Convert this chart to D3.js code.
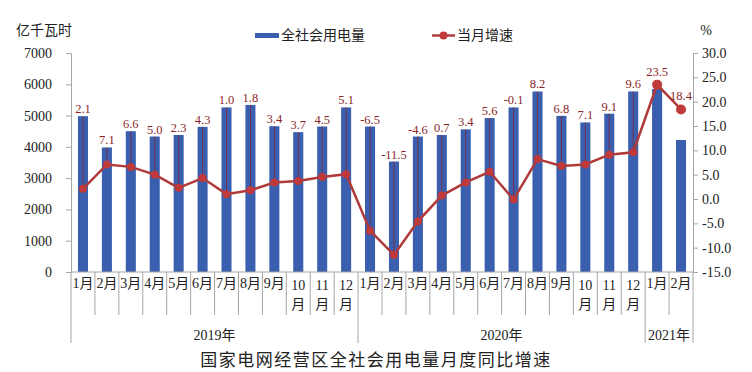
<!DOCTYPE html>
<html>
<head>
<meta charset="utf-8">
<script src="https://cdn.jsdelivr.net/npm/d3@7"></script>
<style>
  body { margin: 0; background: #fff; }
  svg { display: block; }
</style>
</head>
<body>
<div id="chart"></div>
<script>
// months along the axis, 2019-01 .. 2021-02
var months = ['1月','2月','3月','4月','5月','6月','7月','8月','9月','10月','11月','12月',
              '1月','2月','3月','4月','5月','6月','7月','8月','9月','10月','11月','12月',
              '1月','2月'];
var yearLabels = ['2019年','2020年','2021年'];
var yearCounts = [12, 12, 2];

// 全社会用电量 (亿千瓦时)
var power = [4980, 3980, 4500, 4330, 4380, 4640, 5260, 5340, 4660, 4470, 4650, 5260,
             4650, 3530, 4330, 4380, 4560, 4920, 5260, 5770, 4990, 4780, 5060, 5770,
             5850, 4220];
// 当月增速 (%)
var growth = [2.1, 7.1, 6.6, 5.0, 2.3, 4.3, 1.0, 1.8, 3.4, 3.7, 4.5, 5.1,
              -6.5, -11.5, -4.6, 0.7, 3.4, 5.6, -0.1, 8.2, 6.8, 7.1, 9.1, 9.6,
              23.5, 18.4];

var leftTicks = [0, 1000, 2000, 3000, 4000, 5000, 6000, 7000];
var rightTicks = [-15, -10, -5, 0, 5, 10, 15, 20, 25, 30];

// plot box in pixels (note: "top" is taken by window.top)
var W = 752, H = 372;
var plotLeft = 71, plotRight = 693, plotTop = 53, plotBottom = 272;

var barColor = '#3a5fae';
var lineColor = '#b03a3a';
var labelColor = '#8b1f2a';
var axisColor = '#a6a6a6';
var numFont = '"Liberation Serif", "Noto Sans CJK SC", serif';
var cjkFont = '"Noto Sans CJK SC", sans-serif';

var svg = d3.select('#chart').append('svg')
            .attr('width', W)
            .attr('height', H);

var x = d3.scaleBand().domain(d3.range(months.length)).range([plotLeft, plotRight]).padding(0);
var yL = d3.scaleLinear().domain([0, 7000]).range([plotBottom, plotTop]);
var yR = d3.scaleLinear().domain([-15, 30]).range([plotBottom, plotTop]);
var barW = x.bandwidth() * 0.42;
var cx = function(i){ return x(i) + x.bandwidth() / 2; };
var fmt1 = function(d){ return d3.format('.1f')(d).replace('\u2212', '-'); };

// left axis
var axL = svg.append('g').attr('transform', 'translate(' + plotLeft + ',0)')
  .call(d3.axisLeft(yL).tickValues(leftTicks).tickSize(5).tickPadding(14).tickFormat(d3.format('d')));
axL.select('.domain').attr('stroke', axisColor);
axL.selectAll('.tick line').attr('stroke', axisColor);
axL.selectAll('.tick text').attr('font-family', numFont).attr('font-size', 14).attr('fill', '#222');

// right axis
var axR = svg.append('g').attr('transform', 'translate(' + plotRight + ',0)')
  .call(d3.axisRight(yR).tickValues(rightTicks).tickSize(5).tickPadding(4).tickFormat(fmt1));
axR.select('.domain').attr('stroke', axisColor);
axR.selectAll('.tick line').attr('stroke', axisColor);
axR.selectAll('.tick text').attr('font-family', numFont).attr('font-size', 14).attr('fill', '#222');

// bars
svg.selectAll('rect.bar').data(power)
  .enter().append('rect')
  .attr('class', 'bar')
  .attr('x', function(d, i){ return cx(i) - barW / 2; })
  .attr('y', function(d){ return yL(d); })
  .attr('width', barW)
  .attr('height', function(d){ return plotBottom - yL(d); })
  .attr('fill', barColor);

// label positions: above the bar or the point, whichever is higher
var labelY = function(d, i){ return Math.min(yL(power[i]), yR(d) - 6) - 3; };

// leader lines from label down to the point
svg.selectAll('line.leader').data(growth)
  .enter().append('line')
  .attr('class', 'leader')
  .filter(function(d, i){ return yR(d) - yL(power[i]) > 14; })
  .attr('x1', function(d, i){ return cx(i); })
  .attr('x2', function(d, i){ return cx(i); })
  .attr('y1', function(d, i){ return yL(power[i]); })
  .attr('y2', function(d){ return yR(d); })
  .attr('stroke', labelColor)
  .attr('stroke-width', 1)
  .attr('opacity', 0.7);

// growth line
var line = d3.line().x(function(d, i){ return cx(i); }).y(function(d){ return yR(d); });
svg.append('path').datum(growth)
  .attr('d', line)
  .attr('fill', 'none')
  .attr('stroke', lineColor)
  .attr('stroke-width', 2.5);

svg.selectAll('circle.pt').data(growth)
  .enter().append('circle')
  .attr('class', 'pt')
  .attr('cx', function(d, i){ return cx(i); })
  .attr('cy', function(d){ return yR(d); })
  .attr('r', function(d, i){ return i >= 24 ? 5 : 4; })
  .attr('fill', '#c0393b');

svg.selectAll('text.val').data(growth)
  .enter().append('text')
  .attr('class', 'val')
  .attr('x', function(d, i){ return cx(i); })
  .attr('y', labelY)
  .attr('text-anchor', 'middle')
  .attr('font-family', numFont)
  .attr('font-size', 12.5)
  .attr('fill', labelColor)
  .text(fmt1);

// category axis
svg.append('line').attr('x1', plotLeft).attr('x2', plotRight).attr('y1', plotBottom).attr('y2', plotBottom)
  .attr('stroke', axisColor);

// month separators, longer at year boundaries
var yearStarts = [0];
yearCounts.forEach(function(n, k){ yearStarts.push(yearStarts[k] + n); });
var edgeX = function(i){ return i < months.length ? x(i) : plotRight; };
svg.selectAll('line.msep').data(d3.range(months.length + 1))
  .enter().append('line')
  .attr('class', 'msep')
  .attr('x1', edgeX)
  .attr('x2', edgeX)
  .attr('y1', plotBottom)
  .attr('y2', function(i){ return yearStarts.indexOf(i) >= 0 ? 343 : 315; })
  .attr('stroke', axisColor);

// month labels ("10月" etc. wrap onto two lines)
months.forEach(function(m, i){
  var t = svg.append('text')
    .attr('x', cx(i))
    .attr('text-anchor', 'middle')
    .attr('font-family', numFont)
    .attr('font-size', 14)
    .attr('fill', '#222');
  if (m.length > 2) {
    t.append('tspan').attr('x', cx(i)).attr('y', 290).text(m.slice(0, 2));
    t.append('tspan').attr('x', cx(i)).attr('y', 309).text(m.slice(2));
  } else {
    t.attr('y', 288).text(m);
  }
});

// year labels
yearLabels.forEach(function(yl, k){
  var x0 = edgeX(yearStarts[k]);
  var x1 = edgeX(yearStarts[k + 1]);
  svg.append('text')
    .attr('x', (x0 + x1) / 2)
    .attr('y', 340)
    .attr('text-anchor', 'middle')
    .attr('font-family', numFont)
    .attr('font-size', 14)
    .attr('fill', '#222')
    .text(yl);
});

// unit labels
svg.append('text').attr('x', 16).attr('y', 35)
  .attr('font-family', cjkFont).attr('font-size', 14).attr('fill', '#222')
  .text('亿千瓦时');
svg.append('text').attr('x', 706).attr('y', 35).attr('text-anchor', 'middle')
  .attr('font-family', numFont).attr('font-size', 14).attr('fill', '#222')
  .text('%');

// legend
svg.append('rect').attr('x', 255).attr('y', 33).attr('width', 24).attr('height', 5).attr('fill', barColor);
svg.append('text').attr('x', 281).attr('y', 40)
  .attr('font-family', cjkFont).attr('font-size', 14).attr('fill', '#222')
  .text('全社会用电量');
svg.append('line').attr('x1', 432).attr('x2', 455).attr('y1', 35.5).attr('y2', 35.5)
  .attr('stroke', lineColor).attr('stroke-width', 2.5);
svg.append('circle').attr('cx', 443.5).attr('cy', 35.5).attr('r', 4).attr('fill', '#c0393b');
svg.append('text').attr('x', 457).attr('y', 40)
  .attr('font-family', cjkFont).attr('font-size', 14).attr('fill', '#222')
  .text('当月增速');

// title
svg.append('text').attr('x', 376).attr('y', 366).attr('text-anchor', 'middle')
  .attr('font-family', cjkFont).attr('font-size', 17).attr('fill', '#222')
  .attr('letter-spacing', 1.5)
  .text('国家电网经营区全社会用电量月度同比增速');
</script>
</body>
</html>
